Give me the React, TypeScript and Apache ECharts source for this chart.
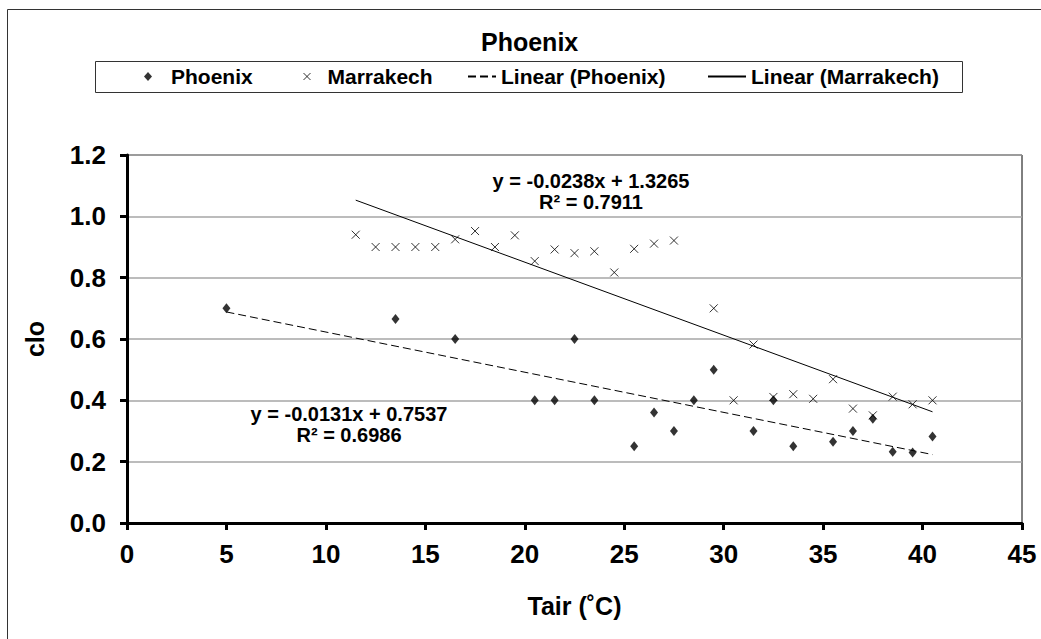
import React, { useEffect, useRef } from "react";
import * as echarts from "echarts";

const FONT = "'Liberation Sans', Arial, sans-serif";

const xTicks = [0, 5, 10, 15, 20, 25, 30, 35, 40, 45];
const yTicks = [0, 0.2, 0.4, 0.6, 0.8, 1.0, 1.2];

const phoenixX = [5, 13.5, 16.5, 20.5, 21.5, 22.5, 23.5, 25.5, 26.5, 27.5, 28.5, 29.5, 31.5, 32.5, 33.5, 35.5, 36.5, 37.5, 38.5, 39.5, 40.5];
const phoenixY = [0.70, 0.665, 0.60, 0.40, 0.40, 0.60, 0.40, 0.25, 0.36, 0.30, 0.40, 0.50, 0.30, 0.40, 0.25, 0.265, 0.30, 0.34, 0.232, 0.23, 0.282];

const marrakechX = [11.5, 12.5, 13.5, 14.5, 15.5, 16.5, 17.5, 18.5, 19.5, 20.5, 21.5, 22.5, 23.5, 24.5, 25.5, 26.5, 27.5, 29.5, 30.5, 31.5, 32.5, 33.5, 34.5, 35.5, 36.5, 37.5, 38.5, 39.5, 40.5];
const marrakechY = [0.94, 0.90, 0.90, 0.90, 0.90, 0.925, 0.952, 0.90, 0.938, 0.854, 0.892, 0.880, 0.886, 0.817, 0.894, 0.911, 0.921, 0.70, 0.40, 0.582, 0.411, 0.42, 0.405, 0.469, 0.373, 0.351, 0.412, 0.387, 0.40];

// Trendline coefficients as printed on the chart
const phoenixTrend = { slope: -0.0131, intercept: 0.7537, r2: "0.6986", xRange: [5, 40.5] };
const marrakechTrend = { slope: -0.0238, intercept: 1.3265, r2: "0.7911", xRange: [11.5, 40.5] };

const seriesNames = ["Phoenix", "Marrakech", "Linear (Phoenix)", "Linear (Marrakech)"];

function trendPoints(t: { slope: number; intercept: number; xRange: number[] }) {
  return t.xRange.map((x) => [x, t.slope * x + t.intercept]);
}
function eqText(t: { slope: number; intercept: number; r2: string }) {
  return `y = ${t.slope.toFixed(4)}x + ${t.intercept.toFixed(4)}\nR² = ${t.r2}`;
}

export default function App() {
  const ref = useRef<HTMLDivElement>(null);
  useEffect(() => {
    if (!ref.current) return;
    const chart = echarts.init(ref.current, undefined, { renderer: "svg" });
    const labelStyle = { fontFamily: FONT, fontWeight: "bold" as const, color: "#000" };
    const legendText = { ...labelStyle, fontSize: 21 };
    const hiddenDot = { color: "rgba(0,0,0,0)", borderWidth: 0, borderColor: "rgba(0,0,0,0)" };
    const option: any = {
      animation: false,
      backgroundColor: "#fff",
      title: {
        text: "Phoenix",
        left: 481,
        top: 29,
        padding: 0,
        textStyle: { ...labelStyle, fontSize: 25 },
      },
      legend: [
        {
          data: [seriesNames[0]], left: 144, top: 66, padding: 0, itemWidth: 8, itemHeight: 9,
          selectedMode: false, textStyle: { ...legendText, padding: [0, 0, 0, 14] },
        },
        {
          data: [seriesNames[1]], left: 303, top: 66, padding: 0, itemWidth: 7, itemHeight: 7,
          selectedMode: false, textStyle: { ...legendText, padding: [0, 0, 0, 12] },
          itemStyle: { color: "rgba(0,0,0,0)", borderColor: "#000", borderWidth: 1 },
        },
        {
          data: [seriesNames[2]], left: 467, top: 66, padding: 0, itemWidth: 28, itemHeight: 1,
          selectedMode: false, textStyle: legendText, itemStyle: hiddenDot,
        },
        {
          data: [seriesNames[3]], left: 707, top: 66, padding: 0, itemWidth: 38, itemHeight: 1,
          selectedMode: false, textStyle: legendText, itemStyle: hiddenDot,
        },
      ],
      grid: {
        left: 127, right: 19, top: 155, bottom: 116,
        show: true, borderColor: "#000", borderWidth: 1, backgroundColor: "#fff",
      },
      xAxis: {
        type: "value", min: xTicks[0], max: xTicks[xTicks.length - 1], interval: 5,
        name: "Tair (˚C)", nameLocation: "middle", nameGap: 70,
        nameTextStyle: { ...labelStyle, fontSize: 25 },
        axisLine: { show: true, onZero: false, lineStyle: { color: "#000", width: 3 } },
        axisTick: { show: true, length: 7, lineStyle: { color: "#000", width: 3 } },
        axisLabel: { ...labelStyle, fontSize: 26, margin: 18 },
        splitLine: { show: false },
      },
      yAxis: {
        type: "value", min: yTicks[0], max: yTicks[yTicks.length - 1], interval: 0.2,
        name: "clo", nameLocation: "middle", nameRotate: 90, nameGap: 80,
        nameTextStyle: { ...labelStyle, fontSize: 25 },
        axisLine: { show: true, onZero: false, lineStyle: { color: "#000", width: 3 } },
        axisTick: { show: true, length: 7, lineStyle: { color: "#000", width: 3 } },
        axisLabel: { ...labelStyle, fontSize: 26, margin: 21, formatter: (v: number) => v.toFixed(1) },
        splitLine: { show: true, lineStyle: { color: "#a6a6a6", width: 1.5 } },
      },
      graphic: [
        {
          type: "rect", silent: true, z: -10,
          shape: { x: 7.5, y: 9.5, width: 1300, height: 900 },
          style: { fill: "none", stroke: "#333", lineWidth: 1 },
        },
        {
          type: "rect", silent: true,
          shape: { x: 95.5, y: 61.5, width: 867, height: 31 },
          style: { fill: "none", stroke: "#333", lineWidth: 1 },
        },
        {
          type: "text", silent: true, x: 591, y: 191,
          style: {
            text: eqText(marrakechTrend), align: "center", verticalAlign: "middle",
            font: `bold 20px ${FONT}`, lineHeight: 21, fill: "#000",
          },
        },
        {
          type: "text", silent: true, x: 349, y: 424,
          style: {
            text: eqText(phoenixTrend), align: "center", verticalAlign: "middle",
            font: `bold 20px ${FONT}`, lineHeight: 21, fill: "#000",
          },
        },
      ],
      series: [
        {
          name: seriesNames[0], type: "scatter", symbol: "diamond", symbolSize: [8, 10],
          itemStyle: { color: "#000" }, z: 4,
          data: phoenixX.map((x, i) => [x, phoenixY[i]]),
        },
        {
          name: seriesNames[1], type: "scatter", symbol: "path://M0,0L10,10M10,0L0,10", symbolSize: 8,
          itemStyle: { color: "rgba(0,0,0,0)", borderColor: "#000", borderWidth: 1 }, z: 4,
          data: marrakechX.map((x, i) => [x, marrakechY[i]]),
        },
        {
          name: seriesNames[2], type: "line", symbol: "none", silent: true, z: 3,
          itemStyle: { color: "#000" },
          lineStyle: { color: "#000", width: 1, type: [8, 4] },
          data: trendPoints(phoenixTrend),
        },
        {
          name: seriesNames[3], type: "line", symbol: "none", silent: true, z: 3,
          itemStyle: { color: "#000" },
          lineStyle: { color: "#000", width: 1 },
          data: trendPoints(marrakechTrend),
        },
      ],
    };
    chart.setOption(option);
    return () => chart.dispose();
  }, []);
  return (
    <div
      ref={ref}
      style={{ position: "fixed", left: 0, top: 0, width: 1041, height: 639 }}
    />
  );
}
